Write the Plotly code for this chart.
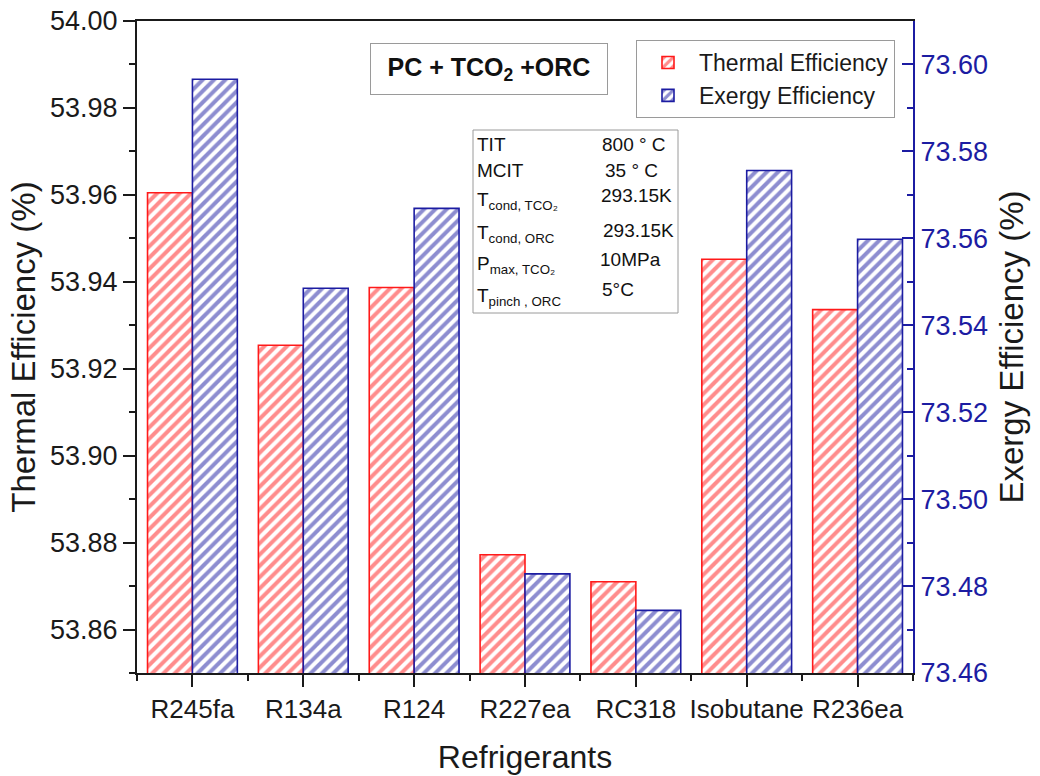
import plotly.graph_objects as go

# ---------------- data ----------------
categories = ["R245fa", "R134a", "R124", "R227ea", "RC318", "Isobutane", "R236ea"]
thermal_eff = [53.9605, 53.9254, 53.9387, 53.8772, 53.8710, 53.9452, 53.9336]
exergy_eff = [73.5966, 73.5485, 73.5669, 73.4828, 73.4744, 73.5756, 73.5598]

left_ticks = [53.86, 53.88, 53.90, 53.92, 53.94, 53.96, 53.98, 54.00]
right_ticks = [73.46, 73.48, 73.50, 73.52, 73.54, 73.56, 73.58, 73.60]

info_labels = ["TIT", "MCIT", "T<sub>cond, TCO₂</sub>", "T<sub>cond, ORC</sub>",
               "P<sub>max, TCO₂</sub>", "T<sub>pinch , ORC</sub>"]
info_values = ["800 ° C", "35 ° C", "293.15K", "293.15K", "10MPa", "5°C"]

# ---------------- layout helpers ----------------
W, H = 1040, 776
PL, PR, PT, PB = 137, 913, 21, 673


def px(x):
    return (x - PL) / (PR - PL)


def py(y):
    return (PB - y) / (PB - PT)


RED = "#ff1a1a"
BLUE = "#1c1ca2"
FONT = "Liberation Sans, Arial, sans-serif"
xpos = list(range(len(categories)))
bw = 0.405

fig = go.Figure()
fig.add_trace(go.Bar(
    x=xpos, y=thermal_eff, name="Thermal Efficiency", width=bw, offset=-bw,
    marker=dict(color="white", line=dict(color=RED, width=1.6),
                pattern=dict(shape="/", fgcolor=RED, bgcolor="white", size=8, solidity=0.5)),
    yaxis="y"))
fig.add_trace(go.Bar(
    x=xpos, y=exergy_eff, name="Exergy Efficiency", width=bw, offset=0,
    marker=dict(color="white", line=dict(color=BLUE, width=1.6),
                pattern=dict(shape="/", fgcolor=BLUE, bgcolor="white", size=8, solidity=0.5)),
    yaxis="y2"))

fig.update_layout(
    width=W, height=H,
    margin=dict(l=PL, r=W - PR, t=PT, b=H - PB),
    paper_bgcolor="white", plot_bgcolor="white",
    font=dict(family=FONT, color="#1a1a1a"),
    barmode="overlay",
    showlegend=True,
    legend=dict(x=px(636), y=py(40), xanchor="left", yanchor="top",
                bgcolor="white", bordercolor="#9a9a9a", borderwidth=1,
                font=dict(size=23, family=FONT, color="#1a1a1a"),
                itemwidth=52, tracegroupgap=0),
    xaxis=dict(
        range=[-0.5, len(categories) - 0.5],
        tickvals=xpos, ticktext=categories,
        tickfont=dict(size=26, family=FONT, color="#1a1a1a"),
        ticks="outside", ticklen=12, tickwidth=2, tickcolor="#1a1a1a",
        minor=dict(tick0=0.5, dtick=1, ticks="outside", ticklen=6, tickwidth=2, tickcolor="#1a1a1a"),
        showline=True, linewidth=2, linecolor="#1a1a1a", mirror=True,
        showgrid=False, zeroline=False, automargin=False,
        title=dict(text="Refrigerants", font=dict(size=32, family=FONT, color="#1a1a1a"), standoff=22),
    ),
    yaxis=dict(
        range=[53.85, 54.00],
        tickvals=left_ticks, tickformat=".2f",
        tickfont=dict(size=27, family=FONT, color="#1a1a1a"),
        ticks="outside", ticklen=12, tickwidth=2, tickcolor="#1a1a1a",
        minor=dict(tick0=53.85, dtick=0.01, ticks="outside", ticklen=6, tickwidth=2, tickcolor="#1a1a1a"),
        showline=True, linewidth=2, linecolor="#1a1a1a",
        showgrid=False, zeroline=False, automargin=False,
        title=dict(text="Thermal Efficiency (%)", font=dict(size=33, family=FONT, color="#1a1a1a"), standoff=4),
    ),
    yaxis2=dict(
        overlaying="y", side="right", anchor="x",
        range=[73.46, 73.61],
        tickvals=right_ticks, tickformat=".2f",
        tickfont=dict(size=27, family=FONT, color=BLUE),
        ticks="inside", ticklen=11, tickwidth=2, tickcolor=BLUE,
        minor=dict(tick0=73.46, dtick=0.01, ticks="inside", ticklen=6, tickwidth=2, tickcolor=BLUE),
        showline=True, linewidth=2, linecolor=BLUE,
        showgrid=False, zeroline=False, automargin=False,
        title=dict(text="Exergy Efficiency (%)", font=dict(size=33, family=FONT, color="#1a1a1a"), standoff=13),
    ),
)

# title box
fig.add_annotation(
    xref="paper", yref="paper", x=px(489), y=py(69.5), xanchor="center", yanchor="middle",
    text="<b>PC + TCO<sub>2</sub> +ORC</b>", showarrow=False,
    font=dict(size=25, family=FONT, color="#111111"),
    width=220, height=34,
    bordercolor="#9a9a9a", borderwidth=1, borderpad=8, bgcolor="white")

# info box
fig.add_shape(type="rect", xref="paper", yref="paper",
              x0=px(473), x1=px(678), y0=py(313), y1=py(130),
              line=dict(color="#9a9a9a", width=1), fillcolor="white", layer="above")
label_rows = [144, 170, 201, 234, 265, 297]
value_rows = [144, 170, 195, 230, 259, 290]
value_x = [600, 603, 599, 601, 598, 600]
for i, (lab, val) in enumerate(zip(info_labels, info_values)):
    fig.add_annotation(xref="paper", yref="paper", x=px(475), y=py(label_rows[i]),
                       xanchor="left", yanchor="middle", text=lab, showarrow=False,
                       font=dict(size=19, family=FONT, color="#111111"))
    fig.add_annotation(xref="paper", yref="paper", x=px(value_x[i]), y=py(value_rows[i]),
                       xanchor="left", yanchor="middle", text=val, showarrow=False,
                       font=dict(size=19, family=FONT, color="#111111"))

fig.write_html("out.html")
